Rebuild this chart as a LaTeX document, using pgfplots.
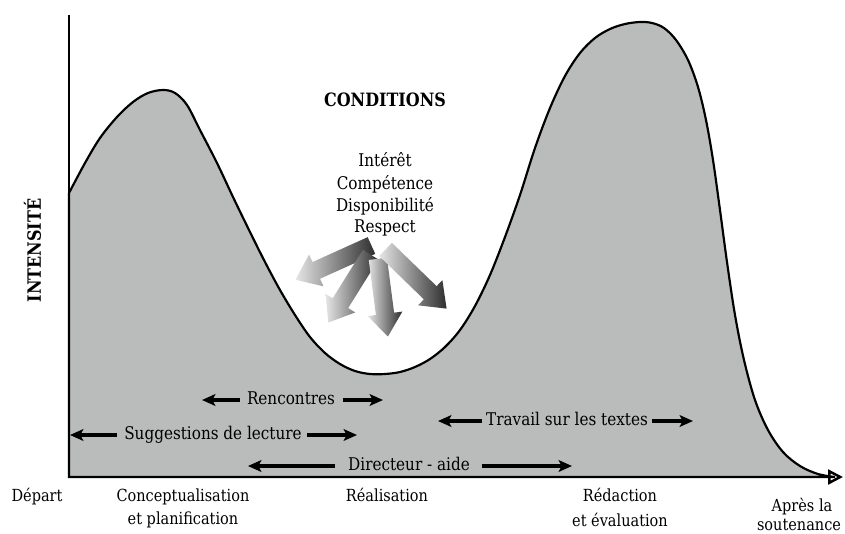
\documentclass[border=0pt]{standalone}
\usepackage{fontspec}
\setmainfont{DejaVu Serif}[FakeStretch=0.87]
\usepackage{pgfplots}
\pgfplotsset{compat=1.18}
\usetikzlibrary{arrows.meta,shapes.arrows}
\definecolor{areagray}{RGB}{186,188,188}
\begin{document}
\begin{tikzpicture}[
  txtarrow/.style={line width=2pt,-{Stealth[length=8pt,width=7pt,inset=1.8pt]}},
  blockarrow/.style={single arrow, draw=none, inner sep=5.3pt, minimum height=#1,
     single arrow head extend=5pt, single arrow tip angle=75, anchor=tip,
     left color=gray!20, right color=black!82},
  lbl/.style={anchor=mid, inner sep=0pt, font=\fontsize{10}{12}\selectfont},
  ilbl/.style={anchor=mid, inner sep=0pt, font=\fontsize{10.5}{12}\selectfont}
]
\begin{axis}[
  scale only axis, width=464.4pt, height=277.2pt,
  xmin=69, xmax=843, ymin=0, ymax=462,
  axis x line=bottom, axis y line=left,
  x axis line style={line width=1.5pt, -{Triangle[open, fill=white, length=9pt, width=9pt]}},
  y axis line style={line width=1.5pt, -},
  xtick=\empty, ytick=\empty,
  clip=false,
  ylabel={INTENSITÉ},
  ylabel style={at={(axis description cs:-0.047,0.49)}, anchor=center, font=\fontsize{11}{13}\selectfont\bfseries},
]
\addplot[fill=areagray, draw=black, line width=1.3pt, smooth, tension=0.55] coordinates {
(69,284) (85,314) (100,339) (117,360) (133,375) (148,384) (163,387) (175,384)
(187,372) (200,347) (217,314) (233,280) (250,245) (265,215) (280,187) (295,162)
(310,140) (325,124) (340,113) (355,106) (370,103) (385,103) (400,105) (415,110)
(430,118) (445,130) (460,147) (475,171) (490,202) (505,240) (520,282) (535,329)
(550,369) (565,401) (580,424) (595,439) (610,448) (625,453) (640,455) (652,454)
(664,449) (676,437) (688,417) (698,390) (706,357) (713,317) (720,267) (727,215)
(735,162) (744,117) (755,77) (768,47) (783,25) (800,11) (818,3) (835,0)
} \closedcycle;

% conditions
\node[anchor=mid, inner sep=0pt, font=\fontsize{11}{13}\selectfont\bfseries] at (axis cs:385,375) {CONDITIONS};
\node[ilbl] at (axis cs:385,315) {Intérêt};
\node[ilbl] at (axis cs:385,292) {Compétence};
\node[ilbl] at (axis cs:385,270) {Disponibilité};
\node[ilbl] at (axis cs:385,249) {Respect};

% block arrows (placed by their tips)
\node[blockarrow=50pt, rotate=204.3] at (axis cs:295,197) {};
\node[blockarrow=48pt, rotate=238.0] at (axis cs:328,154) {};
\node[blockarrow=47pt, rotate=277.4] at (axis cs:388,140) {};
\node[blockarrow=51pt, rotate=315.9] at (axis cs:447,168) {};

% inner labels with arrows
\node[ilbl] at (axis cs:291,77) {Rencontres};
\draw[txtarrow] (axis cs:240,77) -- (axis cs:202,77);
\draw[txtarrow] (axis cs:343,77) -- (axis cs:383,77);

\node[ilbl] at (axis cs:213,42) {Suggestions de lecture};
\draw[txtarrow] (axis cs:117,42) -- (axis cs:70,42);
\draw[txtarrow] (axis cs:307,42) -- (axis cs:357,42);

\node[ilbl] at (axis cs:567,56) {Travail sur les textes};
\draw[txtarrow] (axis cs:482,56) -- (axis cs:438,56);
\draw[txtarrow] (axis cs:652,56) -- (axis cs:693,56);

\node[ilbl] at (axis cs:409,11) {Directeur - aide};
\draw[txtarrow] (axis cs:335,11) -- (axis cs:248,11);
\draw[txtarrow] (axis cs:482,11) -- (axis cs:572,11);

% phase labels
\node[lbl] at (axis cs:37,-20) {Départ};
\node[lbl] at (axis cs:183,-20) {Conceptualisation};
\node[lbl] at (axis cs:183,-43) {et planification};
\node[lbl] at (axis cs:387,-20) {Réalisation};
\node[lbl] at (axis cs:620,-20) {Rédaction};
\node[lbl] at (axis cs:620,-45) {et évaluation};
\node[lbl] at (axis cs:802,-30) {Après la};
\node[lbl] at (axis cs:799,-49) {soutenance};

\coordinate (bbSW) at (axis cs:0,-56);
\coordinate (bbNE) at (axis cs:845,477);
\end{axis}
\pgfresetboundingbox
\useasboundingbox (bbSW) rectangle (bbNE);
\end{tikzpicture}
\end{document}
